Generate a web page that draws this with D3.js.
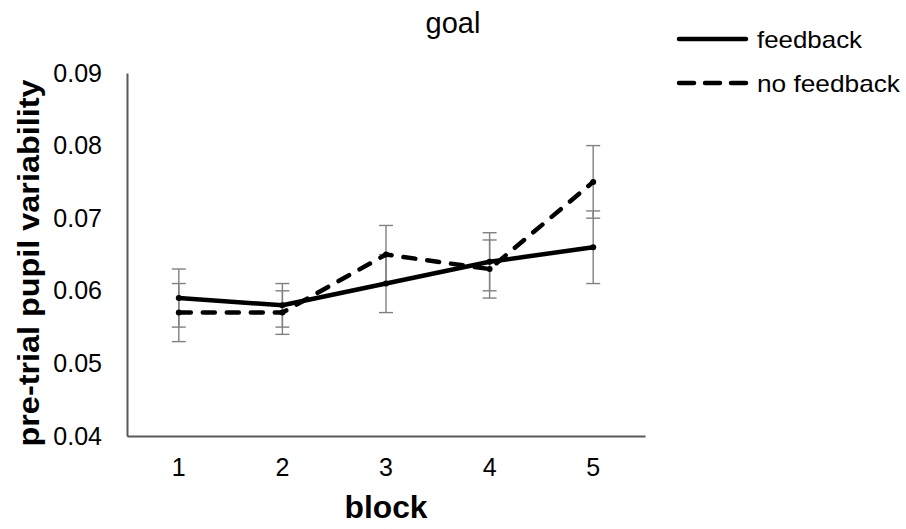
<!DOCTYPE html>
<html>
<head>
<meta charset="utf-8">
<script src="https://cdn.jsdelivr.net/npm/d3@7"></script>
<style>
  body { margin: 0; background: #fff; }
  text { font-family: "Liberation Sans", Arial, sans-serif; fill: #000; }
</style>
</head>
<body>
<div id="chart"></div>
<script>
let blocks = [1, 2, 3, 4, 5];
let feedback = [0.059, 0.058, 0.061, 0.064, 0.066];
let feedbackErr = [0.004, 0.003, 0.004, 0.004, 0.005];
let noFeedback = [0.057, 0.057, 0.065, 0.063, 0.075];
let noFeedbackErr = [0.004, 0.003, 0.004, 0.004, 0.005];
let yTicks = [0.04, 0.05, 0.06, 0.07, 0.08, 0.09];

let width = 906;
let height = 529;
let plotLeft = 127, plotRight = 645, plotTop = 73, plotBottom = 436;

let chart = d3.select("#chart").append("svg")
    .attr("width", width).attr("height", height);

let xscale = d3.scaleBand()
    .domain(blocks)
    .range([plotLeft, plotRight]);

let yscale = d3.scaleLinear()
    .domain([0.04, 0.09])
    .range([plotBottom, plotTop]);

let cx = d => xscale(d) + xscale.bandwidth() / 2;

// axes, lines only
let xAxis = chart.append("g")
    .attr("transform", "translate(0," + plotBottom + ")")
    .call(d3.axisBottom(xscale).tickSize(0).tickPadding(22));
let yAxis = chart.append("g")
    .attr("transform", "translate(" + plotLeft + ",0)")
    .call(d3.axisLeft(yscale).tickValues(yTicks).tickSize(0).tickPadding(25)
        .tickFormat(d3.format(".2f")));

[xAxis, yAxis].forEach(a => {
    a.select(".domain").attr("stroke", "#595959").attr("stroke-width", 2);
    a.selectAll("text").style("font-size", "25px").style("fill", "#000");
});
xAxis.selectAll("text").attr("dy", "0.71em");

// error bars
let series = [
    {name: "feedback", values: feedback, err: feedbackErr, dash: null, legendLen: 105},
    {name: "no feedback", values: noFeedback, err: noFeedbackErr, dash: "12,12", legendLen: 143}
];

series.forEach(s => {
    let g = chart.append("g").attr("stroke", "#808080").attr("stroke-width", 1.4);
    blocks.forEach((b, i) => {
        let x = cx(b);
        let hi = yscale(s.values[i] + s.err[i]);
        let lo = yscale(s.values[i] - s.err[i]);
        g.append("line").attr("x1", x).attr("x2", x).attr("y1", hi).attr("y2", lo);
        g.append("line").attr("x1", x - 7).attr("x2", x + 7).attr("y1", hi).attr("y2", hi);
        g.append("line").attr("x1", x - 7).attr("x2", x + 7).attr("y1", lo).attr("y2", lo);
    });
});

// lines
let line = d3.line()
    .x((d, i) => cx(blocks[i]))
    .y(d => yscale(d));

series.forEach(s => {
    chart.append("path")
        .datum(s.values)
        .attr("d", line)
        .attr("fill", "none")
        .attr("stroke", "#000")
        .attr("stroke-width", 4.5)
        .attr("stroke-linecap", "round")
        .attr("stroke-linejoin", "round")
        .attr("stroke-dasharray", s.dash);
    chart.selectAll(null).data(s.values).enter().append("circle")
        .attr("cx", (d, i) => cx(blocks[i]))
        .attr("cy", d => yscale(d))
        .attr("r", 3)
        .attr("fill", "#000");
});

// title
chart.append("text")
    .attr("x", 453).attr("y", 33)
    .style("text-anchor", "middle")
    .style("font-size", "29px")
    .text("goal");

// axis titles
chart.append("text")
    .attr("x", (plotLeft + plotRight) / 2).attr("y", 518)
    .style("text-anchor", "middle")
    .style("font-size", "31px").style("font-weight", "bold")
    .attr("textLength", 83).attr("lengthAdjust", "spacingAndGlyphs")
    .text("block");

chart.append("text")
    .attr("transform", "translate(39," + 263 + ") rotate(-90)")
    .style("text-anchor", "middle")
    .style("font-size", "29px").style("font-weight", "bold")
    .attr("textLength", 367).attr("lengthAdjust", "spacingAndGlyphs")
    .text("pre-trial pupil variability");

// legend
let legend = chart.append("g");
series.forEach((s, i) => {
    let y = 39 + i * 44;
    legend.append("line")
        .attr("x1", 679).attr("x2", 746).attr("y1", y).attr("y2", y)
        .attr("stroke", "#000").attr("stroke-width", 4.5)
        .attr("stroke-linecap", "round")
        .attr("stroke-dasharray", s.dash ? "15,11" : null);
    legend.append("text")
        .attr("x", 757).attr("y", y + 9)
        .style("font-size", "24px")
        .attr("textLength", s.legendLen).attr("lengthAdjust", "spacingAndGlyphs")
        .text(s.name);
});
</script>
</body>
</html>
